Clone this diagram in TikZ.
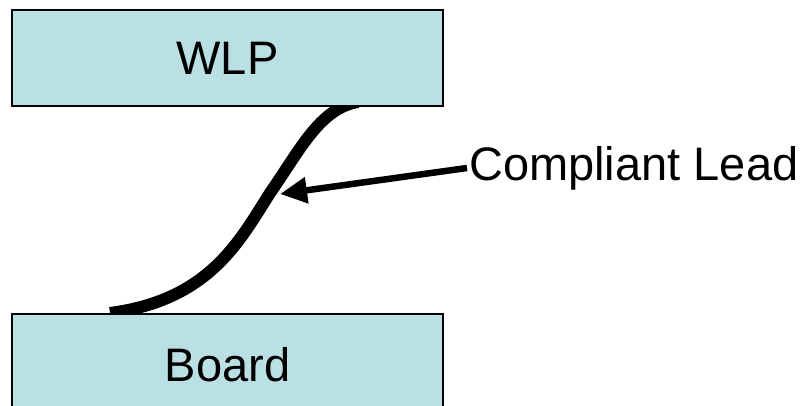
\documentclass[tikz,border=0pt]{standalone}
\usepackage{fontspec}
\setmainfont{Liberation Sans}
\usetikzlibrary{arrows.meta,positioning}
\definecolor{pkg_blue}{RGB}{186, 224, 227}
\tikzstyle{part}=[rectangle,fill=pkg_blue,draw=black,line width=1.5pt,
  minimum width=431pt,font=\fontsize{47}{56}\selectfont]
\tikzstyle{lead}=[line width=12pt]
\tikzstyle{callout}=[line width=6.5pt,-{Triangle[length=27pt,width=25pt]}]
\tikzstyle{none}=[]

\begin{document}
\begin{tikzpicture}[x=1pt, y=-1pt]
    \useasboundingbox (0, 0) rectangle (808, 406);
    \coordinate (0) at (358, 102);
    \coordinate (1) at (270, 193);
    \coordinate (2) at (110, 313);
    \coordinate (3) at (280, 194);
    \draw [style=lead] (0) .. controls (320, 108) and (300, 150) .. (1)
        .. controls (240, 240) and (210, 300) .. (2);
    \node [style=part, minimum height=96pt] (wlp) at (227.5, 58) {WLP};
    \node [style=part, minimum height=102pt] (board) at (227.5, 365) {Board};
    \node [style=none, anchor=west, inner sep=2pt, font=\fontsize{47}{56}\selectfont] (4) at (467, 168) {Compliant Lead};
    \draw [style=callout] (4.west) to (3);
\end{tikzpicture}
\end{document}
